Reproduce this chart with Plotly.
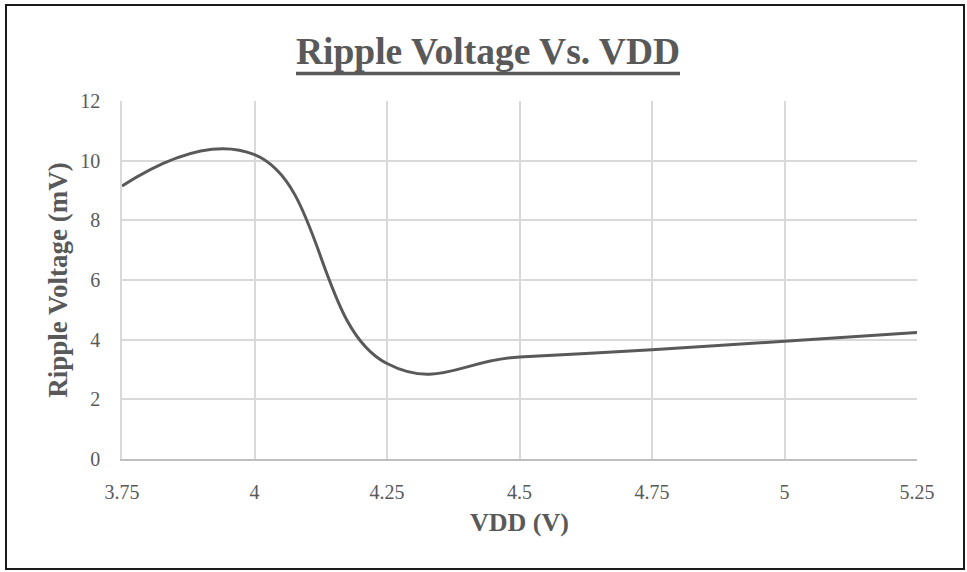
import plotly.graph_objects as go

# Measured ripple voltage at each supply voltage
vdd = [3.75, 4.0, 4.25, 4.5, 4.75, 5.0, 5.25]
ripple_mv = [9.15, 10.2, 3.2, 3.42, 3.66, 3.95, 4.24]

x_ticks = [3.75, 4.0, 4.25, 4.5, 4.75, 5.0, 5.25]
x_tick_text = ["3.75", "4", "4.25", "4.5", "4.75", "5", "5.25"]
y_ticks = [0, 2, 4, 6, 8, 10, 12]

W, H = 967, 572
L, R, T, B = 122, 50, 101, 113
pw, ph = W - L - R, H - T - B

grey_text = "#595959"
serif = "Liberation Serif, Times New Roman, serif"

fig = go.Figure()
fig.add_trace(go.Scatter(
    x=vdd, y=ripple_mv, mode="lines",
    line=dict(color="#595959", width=3, shape="spline", smoothing=1.3),
    showlegend=False,
))


def px_x(p):
    return (p - L) / pw


def px_y(p):
    return 1 - (p - T) / ph


fig.update_layout(
    width=W, height=H,
    margin=dict(l=L, r=R, t=T, b=B),
    paper_bgcolor="white", plot_bgcolor="white",
    title=dict(
        text="<b>Ripple Voltage Vs. VDD</b>",
        x=488 / W, xanchor="center", y=1 - 51 / H, yanchor="middle",
        font=dict(family=serif, size=37.5, color=grey_text),
    ),
    xaxis=dict(
        range=[3.75, 5.25], tickvals=x_ticks, ticktext=x_tick_text,
        showgrid=True, gridcolor="#d9d9d9", gridwidth=1.5,
        zeroline=False, showline=True, linecolor="#bfbfbf", linewidth=1.5,
        ticks="outside", ticklen=14, tickcolor="rgba(0,0,0,0)",
        tickfont=dict(family=serif, size=20, color=grey_text),
        title=dict(text="<b>VDD (V)</b>", standoff=11,
                   font=dict(family=serif, size=26, color=grey_text)),
    ),
    yaxis=dict(
        range=[0, 12], tickvals=y_ticks,
        showgrid=True, gridcolor="#d9d9d9", gridwidth=1.5,
        zeroline=False, showline=True, linecolor="#d9d9d9", linewidth=1.5,
        ticks="outside", ticklen=16, tickcolor="rgba(0,0,0,0)",
        tickfont=dict(family=serif, size=20, color=grey_text),
        title=dict(text="<b>Ripple Voltage (mV)</b>", standoff=5,
                   font=dict(family=serif, size=27, color=grey_text)),
    ),
    shapes=[
        # title underline
        dict(type="line", xref="paper", yref="paper",
             x0=px_x(296), x1=px_x(680), y0=px_y(73.5), y1=px_y(73.5),
             line=dict(color=grey_text, width=3.5)),
        # chart frame
        dict(type="rect", xref="paper", yref="paper",
             x0=px_x(6), x1=px_x(964), y0=px_y(569), y1=px_y(5),
             line=dict(color="#1a1a1a", width=2), fillcolor="rgba(0,0,0,0)"),
    ],
)

fig.write_html("out.html")
